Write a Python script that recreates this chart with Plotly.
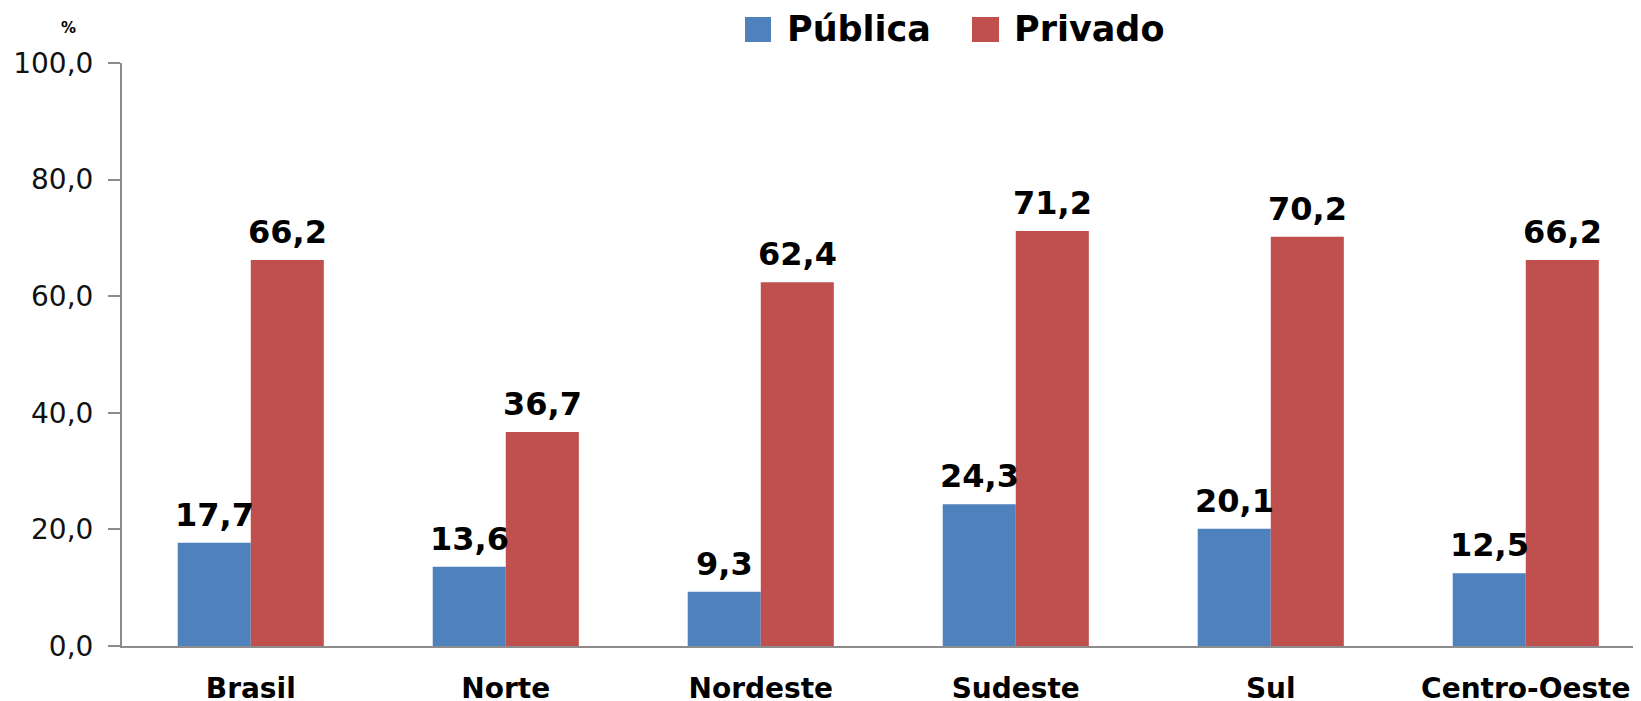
import plotly.graph_objects as go

categories = ["Brasil", "Norte", "Nordeste", "Sudeste", "Sul", "Centro-Oeste"]
publica = [17.7, 13.6, 9.3, 24.3, 20.1, 12.5]
privado = [66.2, 36.7, 62.4, 71.2, 70.2, 66.2]
series_names = ["Pública", "Privado"]
colors = ["#4F81BD", "#C0504D"]
y_ticks = [0, 20, 40, 60, 80, 100]

OFF = 8  # browser body margin
W, H = 1641, 701
L, R, T, B = 114, 0, 55, 63
PW, PH = W - L - R, H - T - B
FONT = "DejaVu Sans"
CAT_PX = 255.0
BARGAP = 0.427
BAR_PX = (1 - BARGAP) / 2 * CAT_PX


def fmt(v):
    return f"{v:.1f}".replace(".", ",")


def px_x(x_page):
    return (x_page - OFF - L) / PW


def px_y(y_page):
    return (H - B - (y_page - OFF)) / PH


fig = go.Figure()
for i, (name, vals, col) in enumerate(zip(series_names, [publica, privado], colors)):
    fig.add_trace(go.Bar(
        x=categories, y=vals, name=name,
        marker=dict(color=col, line=dict(width=0)),
        showlegend=False,
    ))
    shift = (i - 0.5) * BAR_PX
    for c, v in zip(categories, vals):
        fig.add_annotation(
            x=c, y=v, xref="x", yref="y", text=fmt(v), showarrow=False,
            xanchor="center", yanchor="bottom", xshift=shift, yshift=7,
            font=dict(family=FONT, size=32, color="black", weight="bold"),
        )

fig.update_layout(
    width=W, height=H,
    margin=dict(l=L, r=R, t=T, b=B, autoexpand=False),
    paper_bgcolor="white", plot_bgcolor="white",
    barmode="group", bargap=BARGAP, bargroupgap=0,
    separators=",.",
    font=dict(family=FONT, color="black"),
)
fig.update_xaxes(
    automargin=False,
    range=[-0.505, -0.505 + PW / CAT_PX], showgrid=False, zeroline=False,
    showline=True, linecolor="#8c8c8c", linewidth=2,
    ticks="", tickfont=dict(family=FONT, size=28, color="black", weight="bold"),
    ticklabelstandoff=16,
)
fig.update_yaxes(
    automargin=False,
    range=[0, 100], tickvals=y_ticks, tickformat=".1f",
    showgrid=False, zeroline=False,
    showline=True, linecolor="#8c8c8c", linewidth=2,
    ticks="outside", ticklen=12, tickcolor="#8c8c8c", tickwidth=2,
    tickfont=dict(family=FONT, size=28, color="#111111"),
    ticklabelstandoff=9,
)

# y unit label
fig.add_annotation(x=px_x(68), y=px_y(28), xref="paper", yref="paper",
                   text="%", showarrow=False, xanchor="center", yanchor="middle",
                   font=dict(family=FONT, size=15, color="black", weight="bold"))

# custom legend (page pixel positions)
leg = [(745, 771, 785, series_names[0], colors[0]), (972, 999, 1012, series_names[1], colors[1])]
for x0, x1, tx, name, col in leg:
    fig.add_shape(type="rect", xref="paper", yref="paper",
                  x0=px_x(x0), x1=px_x(x1), y0=px_y(42), y1=px_y(17),
                  fillcolor=col, line=dict(width=0))
    fig.add_annotation(x=px_x(tx), y=px_y(29), xref="paper", yref="paper",
                       text=name, showarrow=False, xanchor="left", yanchor="middle",
                       font=dict(family=FONT, size=35, color="black", weight="bold"))

fig.write_html("out.html")
